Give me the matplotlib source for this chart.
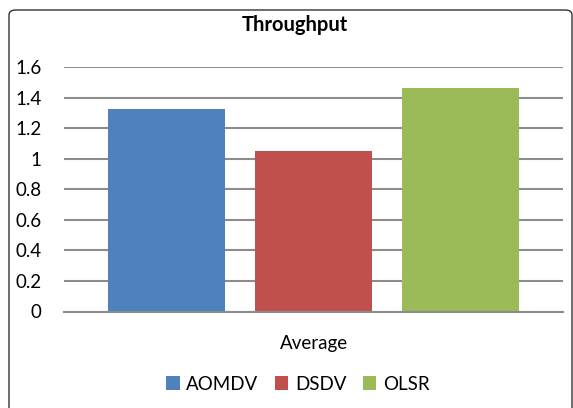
import matplotlib
matplotlib.use("Agg")
import matplotlib.pyplot as plt
from matplotlib.patches import FancyBboxPatch, Patch
import numpy as np

plt.rcParams["font.family"] = ["Lato", "DejaVu Sans"]

category = "Average"
protocols = ["AOMDV", "DSDV", "OLSR"]
throughput = [1.325, 1.05, 1.463]
colors = ["#4F81BD", "#C0504D", "#9BBB59"]
yticks = [0, 0.2, 0.4, 0.6, 0.8, 1, 1.2, 1.4, 1.6]
yticklabels = ["0", "0.2", "0.4", "0.6", "0.8", "1", "1.2", "1.4", "1.6"]

W, H = 573, 408
fig = plt.figure(figsize=(W / 100, H / 100), dpi=100)

# outer chart frame with rounded corners (runs off the right and bottom edges)
frame = FancyBboxPatch((9 / W, -6 / H), (563 / W), (404 / H),
                       boxstyle="round,pad=0,rounding_size=0.012",
                       transform=fig.transFigure, facecolor="none",
                       edgecolor="#333333", linewidth=1.0, zorder=0)
fig.patches.append(frame)

ax = fig.add_axes([64 / W, (H - 311.5) / H, (563 - 64) / W, (311.5 - 67) / H])

bar_w = 117 / 499
step = 147 / 499
offsets = (np.arange(len(protocols)) - 1) * step
for off, val, col, name in zip(offsets, throughput, colors, protocols):
    ax.bar(off, val, width=bar_w, color=col, label=name, zorder=3)

ax.set_xlim(-0.5, 0.5)
ax.set_ylim(0, 1.6)
ax.set_yticks(yticks)
ax.set_yticklabels(yticklabels, fontsize=13.5)
ax.set_xticks([0])
ax.set_xticklabels([category], fontsize=13.5)
ax.tick_params(axis="y", length=0, pad=16)
ax.tick_params(axis="x", length=0, pad=17)
ax.yaxis.grid(True, color="#8C8C8C", linewidth=1.5, zorder=0)
for s in ["top", "right", "left"]:
    ax.spines[s].set_visible(False)
ax.spines["bottom"].set_color("#8C8C8C")
ax.spines["bottom"].set_linewidth(1.5)
ax.spines["bottom"].set_zorder(4)

fig.text(295 / W, (H - 25) / H, "Throughput", ha="center", va="center",
         fontsize=14.5, fontweight="bold")

handles = [Patch(facecolor=c, edgecolor="none") for c in colors]
fig.legend(handles, protocols, loc="center", bbox_to_anchor=(298 / W, (H - 384) / H),
           ncol=3, frameon=False, fontsize=13.5, handlelength=0.7, handleheight=0.7,
           handletextpad=0.35, columnspacing=0.9)

fig.savefig("out.png", dpi=100)
